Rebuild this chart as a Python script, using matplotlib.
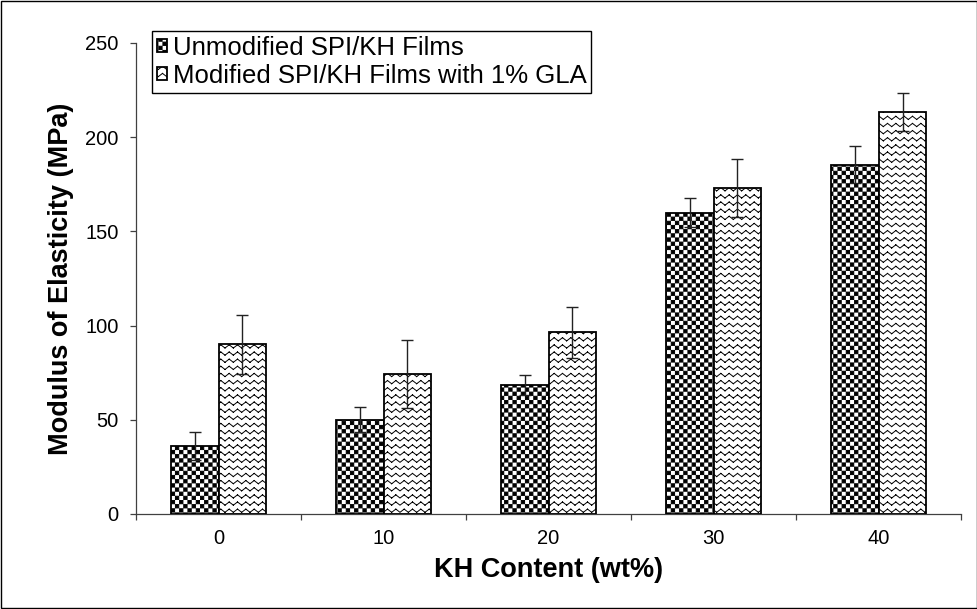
import numpy as np
import matplotlib
matplotlib.use('Agg')
import matplotlib.pyplot as plt
import matplotlib.hatch as mhatch
from matplotlib.path import Path
from matplotlib.patches import Rectangle

kh_content = ['0', '10', '20', '30', '40']
unmodified = [36, 50, 68.5, 160, 185.5]
unmodified_err = [7.5, 6.7, 5.5, 7.5, 10]
modified = [90, 74.5, 96.5, 173, 213.5]
modified_err = [15.5, 18, 13.5, 15.5, 10]

plt.rcParams['font.family'] = ['Liberation Sans', 'DejaVu Sans']
plt.rcParams['hatch.linewidth'] = 0.7


# Excel-like fill patterns as custom hatches ('+' -> checker, '-' -> zigzag)
class CheckerHatch(mhatch.HatchPatternBase):
    def __init__(self, hatch, density):
        self.n = 24
        self.cells = [(i, j) for i in range(self.n) for j in range(self.n) if (i + j) % 2 == 0]
        self.num_vertices = len(self.cells) * 5 if '+' in hatch else 0

    def set_vertices_and_codes(self, vertices, codes):
        c = 1.0 / self.n
        s = c * 0.8
        k = 0
        for i, j in self.cells:
            x0 = i * c + (c - s) / 2
            y0 = j * c + (c - s) / 2
            vertices[k:k + 5] = [(x0, y0), (x0 + s, y0), (x0 + s, y0 + s), (x0, y0 + s), (x0, y0)]
            codes[k:k + 5] = [Path.MOVETO, Path.LINETO, Path.LINETO, Path.LINETO, Path.CLOSEPOLY]
            k += 5


class ZigzagHatch(mhatch.HatchPatternBase):
    def __init__(self, hatch, density):
        self.rows = 14
        self.periods = 12
        self.num_vertices = self.rows * self.periods * 2 * 2 if '-' in hatch else 0

    def set_vertices_and_codes(self, vertices, codes):
        amp = 0.016
        step = 1.0 / (self.periods * 2)
        k = 0
        for r in range(self.rows):
            y = (r + 0.5) / self.rows
            for m in range(self.periods * 2):
                ya = y - amp if m % 2 == 0 else y + amp
                yb = y + amp if m % 2 == 0 else y - amp
                vertices[k] = (m * step, ya)
                vertices[k + 1] = ((m + 1) * step, yb)
                codes[k] = Path.MOVETO
                codes[k + 1] = Path.LINETO
                k += 2


mhatch._hatch_types = [CheckerHatch, ZigzagHatch]

fig = plt.figure(figsize=(9.78, 6.09), dpi=100)
ax = fig.add_axes([0.1391, 0.156, 0.8436, 0.7734])

x = np.arange(len(kh_content))
w = 0.29
err_style = dict(ecolor='#222222', elinewidth=1.0, capsize=4, capthick=1.0, zorder=4)
ax.bar(x - w / 2, unmodified, w, yerr=unmodified_err, facecolor='white', edgecolor='black',
       hatch='+', linewidth=1.3, error_kw=err_style, zorder=3, label='Unmodified SPI/KH Films')
ax.bar(x + w / 2, modified, w, yerr=modified_err, facecolor='white', edgecolor='black',
       hatch='-', linewidth=1.3, error_kw=err_style, zorder=3, label='Modified SPI/KH Films with 1% GLA')

ax.set_xlim(-0.5, len(kh_content) - 0.5)
ax.set_ylim(0, 250)
ax.set_yticks(np.arange(0, 251, 50))
ax.set_xticks(x)
ax.set_xticklabels(kh_content)
ax.set_xticks(np.arange(-0.5, len(kh_content), 1), minor=True)

for side in ['top', 'right']:
    ax.spines[side].set_visible(False)
for side in ['left', 'bottom']:
    ax.spines[side].set_color('#404040')
    ax.spines[side].set_linewidth(0.9)

ax.tick_params(axis='y', direction='out', length=4.5, width=0.9, color='#404040', labelsize=14.5, pad=8)
ax.tick_params(axis='x', which='major', length=0, labelsize=14.5, pad=11)
ax.tick_params(axis='x', which='minor', direction='out', length=4.5, width=0.9, color='#404040')

ax.set_xlabel('KH Content (wt%)', fontsize=19.5, fontweight='bold', labelpad=6)
ax.set_ylabel('Modulus of Elasticity (MPa)', fontsize=19.5, fontweight='bold', labelpad=8)

leg = ax.legend(loc='upper left', bbox_to_anchor=(0.0194, 1.0255), borderaxespad=0,
                fontsize=18.5, fancybox=False, framealpha=1.0, edgecolor='black',
                handlelength=0.4, handleheight=0.4, handletextpad=0.2,
                borderpad=0.2, labelspacing=0.15)
leg.get_frame().set_linewidth(1.0)

fig.patches.append(Rectangle((0.001, 0.0015), 0.998, 0.997, transform=fig.transFigure,
                             fill=False, edgecolor='black', linewidth=1.0))

fig.savefig('out.png', dpi=100)
